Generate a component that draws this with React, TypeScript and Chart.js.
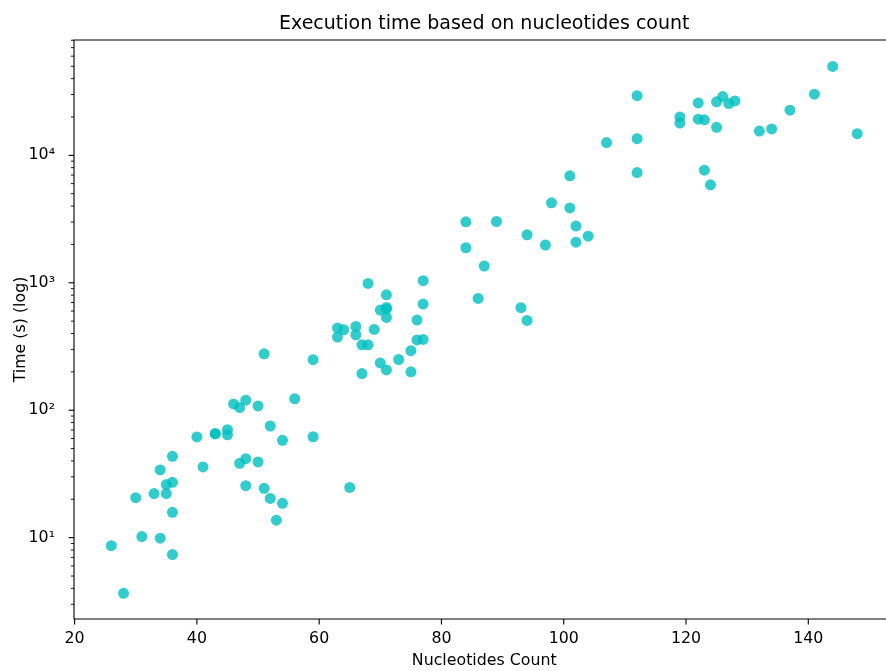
import React, { useEffect, useRef } from "react";
import { Chart, registerables } from "chart.js";

Chart.register(...registerables);

// ---- data ----
const nucleotides: number[] = [
  26, 28, 30, 31, 33, 34, 34, 35, 35, 36, 36, 36, 36, 40, 41, 43, 43, 45, 45, 46,
  47, 47, 48, 48, 48, 50, 50, 51, 51, 52, 52, 53, 54, 54, 56, 59, 59, 63, 63, 64,
  65, 66, 66, 67, 67, 68, 68, 69, 70, 70, 71, 71, 71, 71, 71, 73, 75, 75, 76, 76,
  77, 77, 77, 84, 84, 86, 87, 89, 93, 94, 94, 97, 98, 101, 101, 102, 102, 104, 107, 112,
  112, 112, 119, 119, 122, 122, 123, 123, 124, 125, 125, 126, 127, 128, 132, 134, 137, 141, 144, 148,
];
const execTimes: number[] = [
  8.65, 3.66, 20.6, 10.2, 22.2, 34.0, 9.9, 26.1, 22.2, 43.5, 27.2, 15.8, 7.36, 61.7, 35.9, 65.1, 65.6, 70.3, 64.2, 112,
  38.3, 105, 41.7, 25.6, 120, 39.3, 108, 24.4, 277, 75.2, 20.3, 13.7, 58.0, 18.6, 123, 61.9, 249, 441, 375, 428,
  24.8, 454, 391, 326, 194, 989, 326, 430, 611, 235, 805, 640, 620, 535, 207, 250, 293, 200, 510, 356,
  1038, 681, 359, 3006, 1883, 753, 1353, 3025, 637, 2378, 506, 1976, 4240, 6900, 3870, 2785, 2083, 2322, 12600, 29400,
  13500, 7330, 20000, 17900, 25800, 19200, 19000, 7650, 5870, 26300, 16600, 28900, 25500, 26700, 15500, 16100, 22600, 30200, 49800, 14800,
];

const xTickValues: number[] = [20, 40, 60, 80, 100, 120, 140];
const yDecades: number[] = [1, 10, 100, 1000, 10000];
const yDecadeLabels: string[] = ["10⁰", "10¹", "10²", "10³", "10⁴"];
const yMinorMultipliers: number[] = [2, 3, 4, 5, 6, 7, 8, 9];

const titleText = "Execution time based on nucleotides count";
const xLabel = "Nucleotides Count";
const yLabel = "Time (s) (log)";

const X_MIN = 19.9;
const X_MAX = 154.1;
const Y_MIN = 2.3;
const Y_MAX = 80350;

const FONT = "'DejaVu Sans', sans-serif";

const axesPlugin = {
  id: "mplAxes",
  afterDraw(chart: any) {
    const { ctx, chartArea: a, scales } = chart;
    ctx.save();
    ctx.strokeStyle = "#000";
    ctx.lineWidth = 1.1;
    ctx.beginPath();
    ctx.moveTo(a.right, a.top);
    ctx.lineTo(a.left, a.top);
    ctx.lineTo(a.left, a.bottom);
    ctx.lineTo(a.right, a.bottom);
    ctx.lineTo(a.right, a.top);
    ctx.stroke();
    // x ticks
    ctx.beginPath();
    for (const t of scales.x.ticks) {
      const px = scales.x.getPixelForValue(t.value);
      ctx.moveTo(px, a.bottom);
      ctx.lineTo(px, a.bottom + 5.4);
    }
    ctx.stroke();
    // y ticks
    for (const t of scales.y.ticks) {
      const py = scales.y.getPixelForValue(t.value);
      const len = t.major ? 5.4 : 3.1;
      ctx.lineWidth = t.major ? 1.1 : 0.9;
      ctx.beginPath();
      ctx.moveTo(a.left, py);
      ctx.lineTo(a.left - len, py);
      ctx.stroke();
    }
    ctx.restore();
  },
};

export default function App() {
  const canvasRef = useRef<HTMLCanvasElement | null>(null);

  useEffect(() => {
    document.body.style.margin = "0";
    document.body.style.overflow = "hidden";
    const canvas = canvasRef.current;
    if (!canvas) return;

    const points = nucleotides.map((n, i) => ({ x: n, y: execTimes[i] }));

    const chart = new Chart(canvas, {
      type: "scatter",
      data: {
        datasets: [
          {
            data: points,
            backgroundColor: "rgba(0,191,191,0.8)",
            borderWidth: 0,
            pointRadius: 5.5,
            pointHoverRadius: 5.5,
          },
        ],
      },
      plugins: [axesPlugin],
      options: {
        responsive: false,
        animation: false,
        events: [],
        layout: { padding: { left: 0, top: 0, bottom: 0, right: 4 } },
        plugins: {
          legend: { display: false },
          tooltip: { enabled: false },
          title: {
            display: true,
            fullSize: false,
            text: titleText,
            color: "#000",
            font: { family: FONT, size: 19, weight: "normal" },
            padding: { top: 12.2, bottom: 5 },
          },
        },
        scales: {
          x: {
            type: "linear",
            min: X_MIN,
            max: X_MAX,
            bounds: "data",
            grid: { display: false },
            border: { display: false },
            ticks: {
              includeBounds: false,
              color: "#000",
              padding: 2,
              font: { family: FONT, size: 15.8 },
              maxRotation: 0,
              autoSkip: false,
            },
            afterBuildTicks: (scale: any) => {
              scale.ticks = xTickValues.map((v) => ({ value: v }));
            },
            afterFit: (scale: any) => {
              scale.height = 52;
            },
            title: {
              display: true,
              text: xLabel,
              color: "#000",
              font: { family: FONT, size: 15.8 },
              padding: { top: 0, bottom: 1 },
            },
          },
          y: {
            type: "logarithmic",
            min: Y_MIN,
            max: Y_MAX,
            bounds: "data",
            grid: { display: false },
            border: { display: false },
            ticks: {
              color: "#000",
              padding: 11,
              font: { family: FONT, size: 15.8 },
              autoSkip: false,
              callback: (value: any) => {
                const idx = yDecades.indexOf(Number(value));
                return idx >= 0 ? yDecadeLabels[idx] : "";
              },
            },
            afterBuildTicks: (scale: any) => {
              const ticks: any[] = [];
              for (const d of yDecades) {
                if (d >= Y_MIN && d <= Y_MAX) ticks.push({ value: d, major: true });
                for (const m of yMinorMultipliers) {
                  const v = d * m;
                  if (v >= Y_MIN && v <= Y_MAX) ticks.push({ value: v, major: false });
                }
              }
              ticks.sort((p, q) => p.value - q.value);
              scale.ticks = ticks;
            },
            afterFit: (scale: any) => {
              scale.width = 74;
            },
            title: {
              display: true,
              text: yLabel,
              color: "#000",
              font: { family: FONT, size: 15.8 },
              padding: { top: 11, bottom: 0 },
            },
          },
        },
      },
    } as any);

    return () => {
      chart.destroy();
    };
  }, []);

  return (
    <div style={{ width: 886, height: 671, overflow: "hidden" }}>
      <canvas ref={canvasRef} width={900} height={671} style={{ display: "block" }} />
    </div>
  );
}
